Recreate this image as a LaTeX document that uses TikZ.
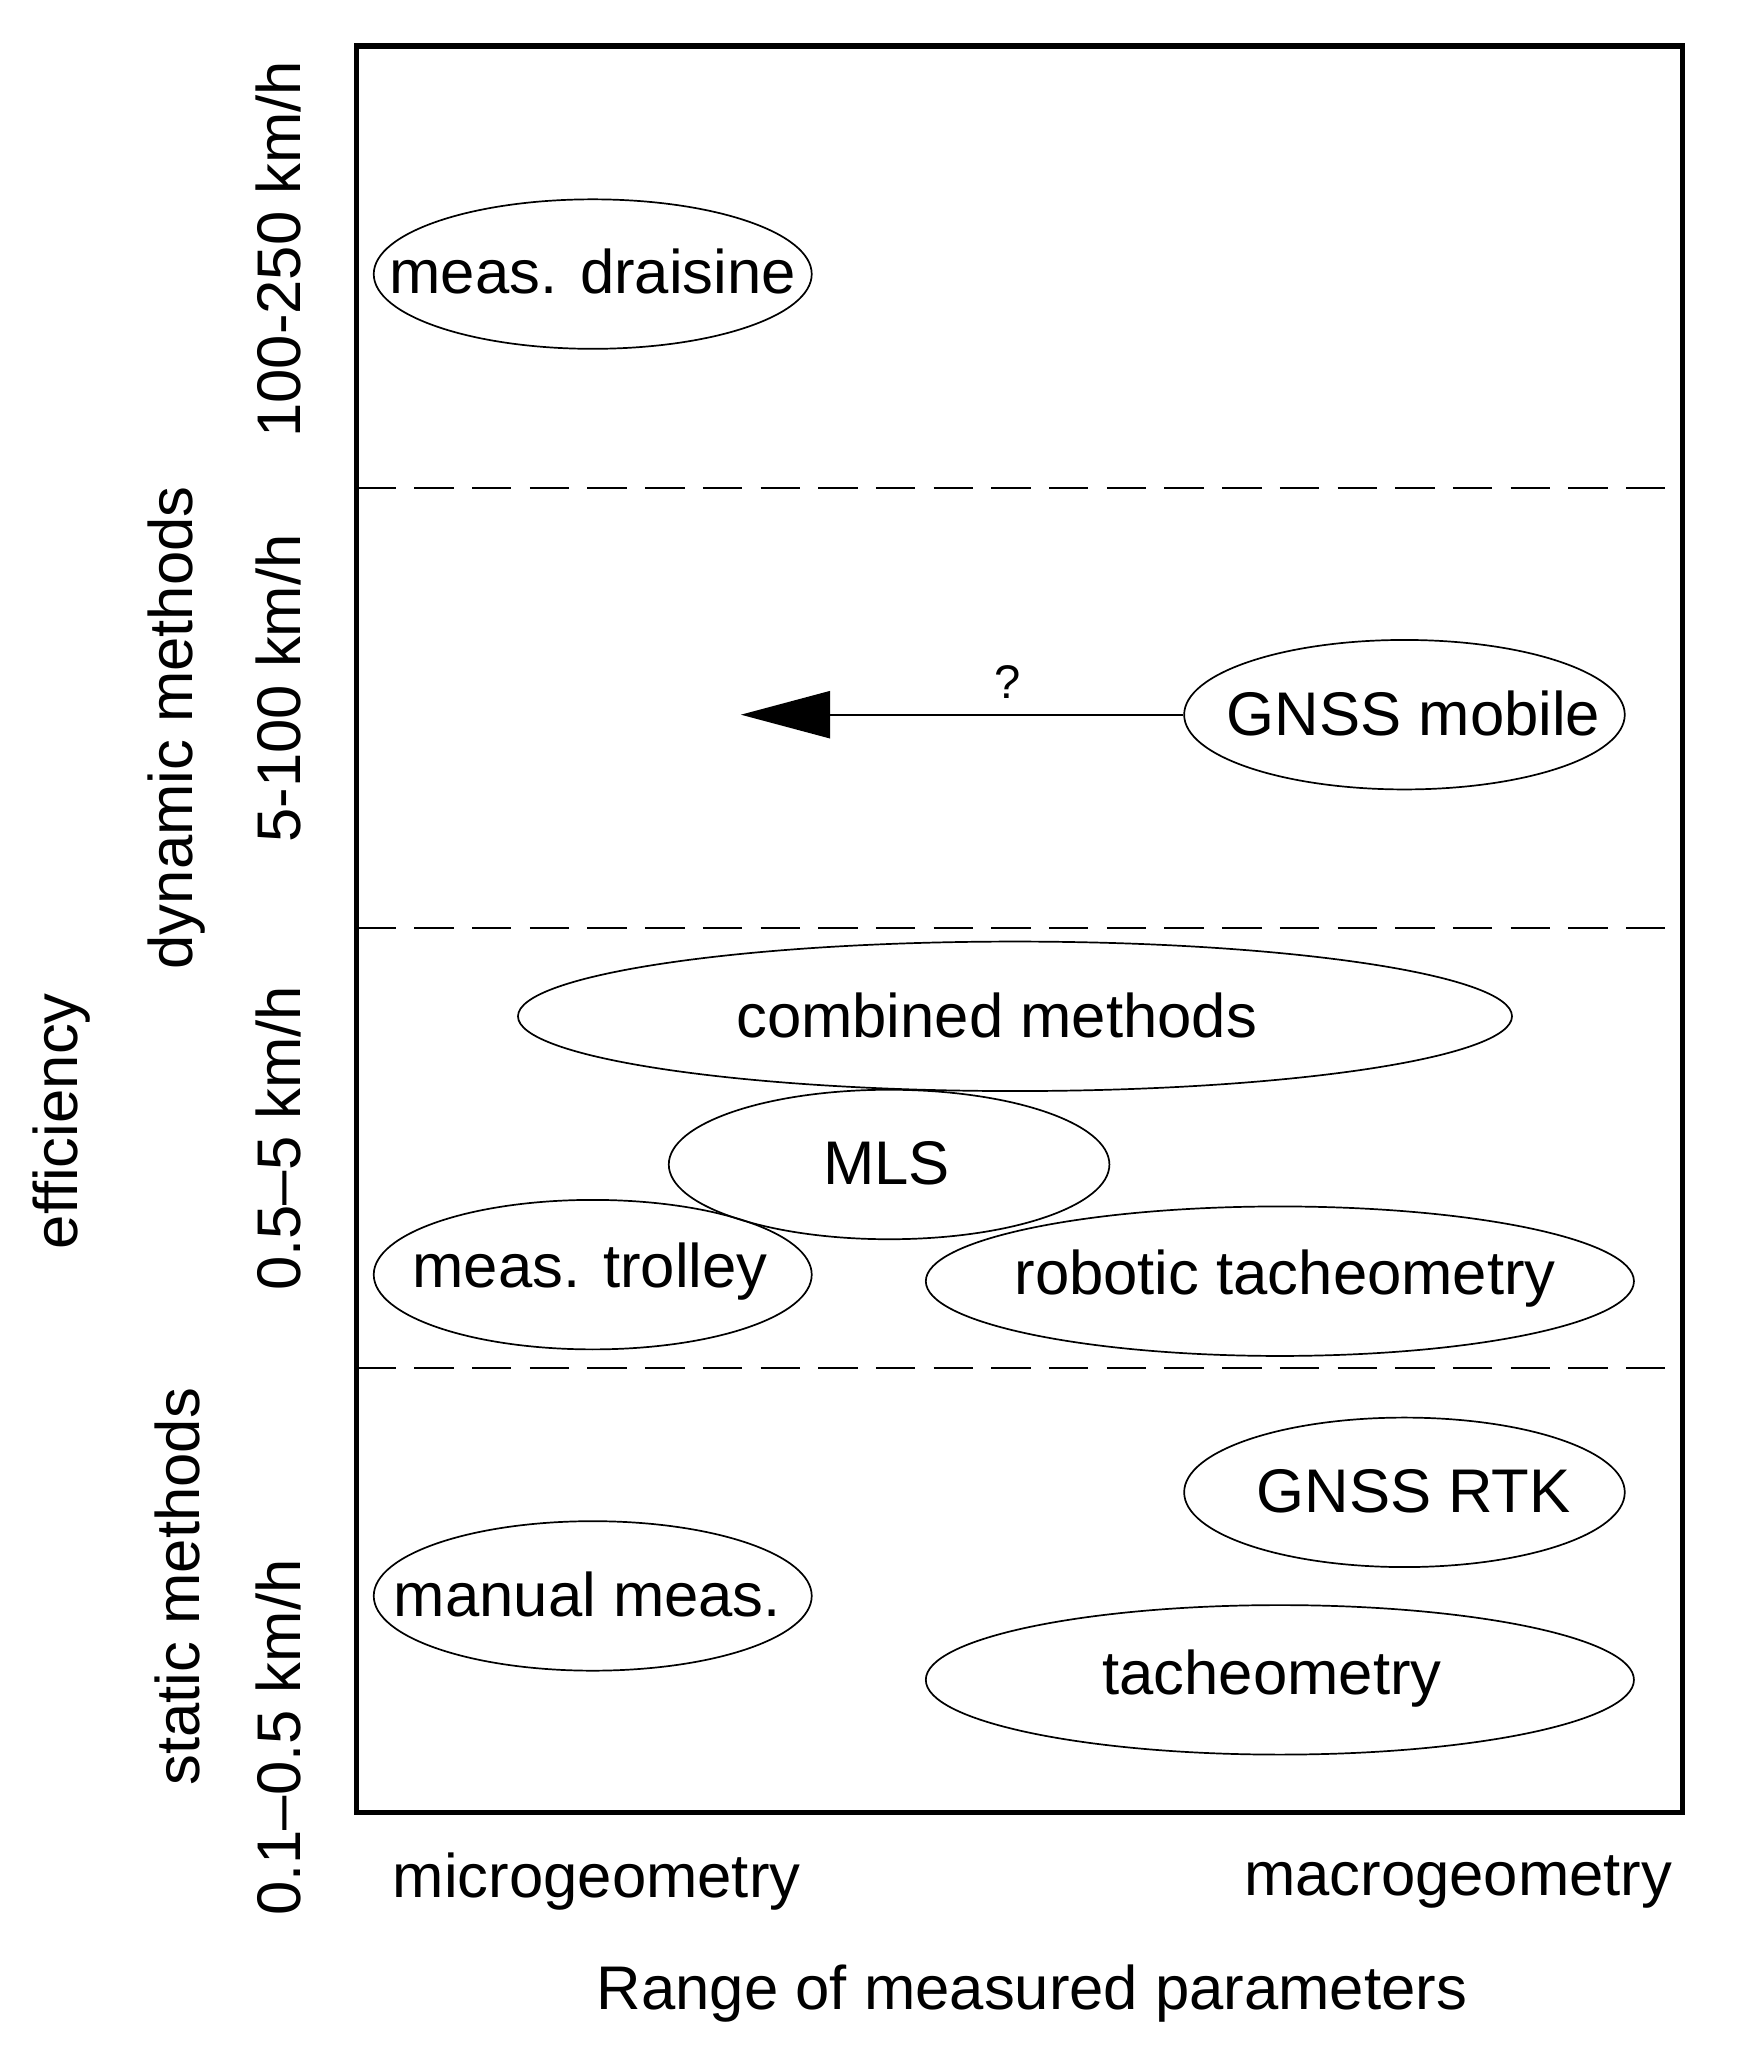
\documentclass[tikz,border=0pt]{standalone}
\usepackage{fontspec}
\setmainfont{Liberation Sans}
\usetikzlibrary{shapes.geometric,arrows.meta}
\begin{document}
\begin{tikzpicture}[x=1pt,y=-1pt,
  lab/.style={font=\fontsize{47}{50}\selectfont, inner sep=0pt},
  el/.style={draw, ellipse, line width=1.3pt, inner sep=0pt, minimum height=114pt},
  dl/.style={dash pattern=on 30pt off 14pt, line width=1.5pt}]
\useasboundingbox (0,0) rectangle (1327,1577);
\draw[line width=4pt] (272,35) rectangle (1283,1382);
\coordinate (d1l) at (272,372); \coordinate (d1r) at (1283,372);
\coordinate (d2l) at (272,708); \coordinate (d2r) at (1283,708);
\coordinate (d3l) at (272,1043); \coordinate (d3r) at (1283,1043);
\draw[dl] (d1l) -- (d1r);
\draw[dl] (d2l) -- (d2r);
\draw[dl] (d3l) -- (d3r);
\node[el, minimum width=334pt] (edr) at (452,209) {};
\node[el, minimum width=336pt] (egm) at (1071,545) {};
\node[el, minimum width=758pt] (ecm) at (774,775) {};
\node[el, minimum width=336pt] (emls) at (678,888) {};
\node[el, minimum width=334pt] (etr) at (452,972) {};
\node[el, minimum width=540pt] (ert) at (976,977) {};
\node[el, minimum width=336pt] (ertk) at (1071,1138) {};
\node[el, minimum width=334pt] (emm) at (452,1217) {};
\node[el, minimum width=540pt] (eta) at (976,1281) {};
\node[lab] (dr) at (452,207) {meas. draisine};
\node[lab] (gm) at (1078,544) {GNSS mobile};
\node[lab] (cm) at (760,774) {combined methods};
\node[lab] (mls) at (676,887) {MLS};
\node[lab] (tr) at (450,970) {meas. trolley};
\node[lab] (rt) at (980,975) {robotic tacheometry};
\node[lab] (rtk) at (1078,1137) {GNSS RTK};
\node[lab] (mm) at (448,1216) {manual meas.};
\node[lab] (ta) at (970,1280) {tacheometry};
\coordinate (tip) at (565,545);
\draw[line width=1.3pt, -{Triangle[length=68pt,width=36pt]}] (egm.west) -- (tip);
\node[lab, font=\fontsize{36}{40}\selectfont] (q) at (768,520) {?};
\node[lab, rotate=90] (s1) at (212,190) {100-250 km/h};
\node[lab, rotate=90] (s2) at (212,525) {5-100 km/h};
\node[lab, rotate=90] (s3) at (212,868) {0.5–5 km/h};
\node[lab, rotate=90] (s4) at (212,1325) {0.1–0.5 km/h};
\node[lab, rotate=90] (dyn) at (135,555) {dynamic methods};
\node[lab, rotate=90] (sta) at (135,1210) {static methods};
\node[lab, rotate=90] (eff) at (47,855) {efficiency};
\node[lab] (mi) at (455,1435) {microgeometry};
\node[lab] (ma) at (1112,1435) {macrogeometry};
\node[lab] (rg) at (787,1520) {Range of measured parameters};
\end{tikzpicture}
\end{document}
